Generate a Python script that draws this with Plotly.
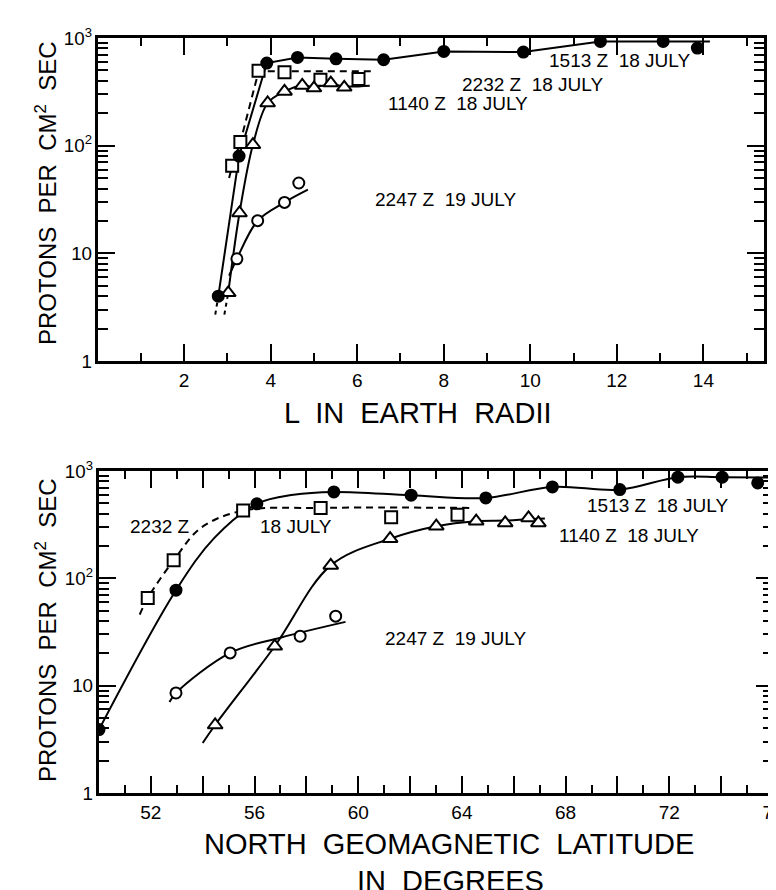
import plotly.graph_objects as go

# ---------------- data: top panel (L in Earth radii) ----------------
top_1513_L = [2.79, 3.27, 3.91, 4.62, 5.51, 6.61, 8.0, 9.84, 11.62, 13.07, 13.86]
top_1513_v = [4.0, 80, 585, 660, 641, 628, 751, 740, 930, 930, 806]
top_2232_L = [3.11, 3.30, 3.72, 4.32, 5.15, 6.03]
top_2232_v = [65, 108, 496, 480, 409, 415]
top_1140_L = [3.02, 3.28, 3.59, 3.93, 4.32, 4.73, 5.0, 5.39, 5.70]
top_1140_v = [4.3, 23.7, 102, 249, 319, 363, 343, 381, 348]
top_2247_L = [3.22, 3.70, 4.32, 4.65]
top_2247_v = [8.9, 20.1, 29.7, 45]

# hand-drawn curves (top)
top_1513_curve_L = [2.79, 3.27, 3.91, 4.62, 5.51, 6.61, 8.0, 9.84, 11.62, 13.07, 14.15]
top_1513_curve_v = [4.0, 80, 585, 660, 641, 628, 751, 740, 930, 930, 930]
top_1513_ext_L = [2.72, 2.79]
top_1513_ext_v = [2.7, 4.0]
top_2232_curve_L = [3.04, 3.11, 3.30, 3.72, 4.3, 6.36]
top_2232_curve_v = [50, 65, 108, 490, 490, 490]
top_1140_curve_L = [3.02, 3.28, 3.59, 3.93, 4.32, 4.73, 5.0, 5.39, 5.70, 6.29]
top_1140_curve_v = [4.3, 23.7, 102, 249, 319, 363, 350, 375, 355, 360]
top_1140_ext_L = [2.93, 3.02]
top_1140_ext_v = [2.7, 4.3]
top_2247_curve_L = [3.04, 3.22, 3.70, 4.32, 4.86]
top_2247_curve_v = [6.2, 8.9, 20.1, 29.7, 39]

# ---------------- data: bottom panel (geomagnetic latitude) ----------------
bot_1513_lat = [50.0, 52.97, 56.09, 59.06, 62.04, 64.92, 67.49, 70.09, 72.33, 74.04, 75.41]
bot_1513_v = [3.9, 77.5, 494, 638, 595, 561, 711, 671, 875, 875, 775]
bot_2232_lat = [51.88, 52.88, 55.56, 58.55, 61.27, 63.83]
bot_2232_v = [65.6, 147, 428, 453, 371, 392]
bot_1140_lat = [54.48, 56.78, 58.94, 61.23, 63.01, 64.55, 65.67, 66.57, 66.95]
bot_1140_v = [4.3, 23.3, 132, 234, 306, 341, 328, 365, 328]
bot_2247_lat = [52.97, 55.06, 57.76, 59.13]
bot_2247_v = [8.55, 20.2, 28.9, 44.4]

# hand-drawn curves (bottom)
bot_1513_curve_lat = [50.0, 52.97, 54.45, 56.09, 57.5, 59.06, 62.04, 64.92, 67.49, 70.09, 72.33, 74.04, 76.0]
bot_1513_curve_v = [3.9, 77.5, 238, 494, 600, 638, 595, 561, 711, 671, 875, 875, 870]
bot_2232_curve_lat = [51.57, 51.88, 52.88, 53.93, 55.56, 58.55, 64.3]
bot_2232_curve_v = [45.9, 65.6, 147, 295, 428, 453, 453]
bot_1140_curve_lat = [54.0, 54.48, 56.78, 58.94, 61.23, 63.01, 64.55, 65.67, 66.57, 67.2]
bot_1140_curve_v = [2.92, 4.3, 23.3, 132, 234, 306, 341, 345, 355, 360]
bot_2247_curve_lat = [52.72, 52.97, 55.06, 57.0, 59.51]
bot_2247_curve_v = [7.05, 8.55, 20.2, 28.0, 39.3]

# axis ranges / tick spacing
top_x_range = [0.01, 15.4]       # L in Earth radii
bot_x_range = [50, 76]           # degrees
y_range_log = [0, 3]             # 1 .. 10^3
x_major_step = 2
x_minor_step = 1

W, H = 776, 890
BLACK = "black"
FONT = "Liberation Sans"

fig = go.Figure()


def curve(x, y, xa, ya, dash="solid", shape="spline", width=2):
    fig.add_trace(go.Scatter(x=x, y=y, xaxis=xa, yaxis=ya, mode="lines",
                             line=dict(color=BLACK, width=width, dash=dash, shape=shape),
                             showlegend=False))


def marks(x, y, xa, ya, symbol, size, filled):
    fig.add_trace(go.Scatter(x=x, y=y, xaxis=xa, yaxis=ya, mode="markers",
                             marker=dict(symbol=symbol, size=size,
                                         color=BLACK if filled else "white",
                                         line=dict(color=BLACK, width=2)),
                             showlegend=False))


# top curves
curve(top_1513_curve_L, top_1513_curve_v, "x", "y", shape="linear")
curve(top_1513_ext_L, top_1513_ext_v, "x", "y", dash="4px,4px", shape="linear")
curve(top_2232_curve_L, top_2232_curve_v, "x", "y", dash="7px,5px", shape="linear")
curve(top_1140_curve_L, top_1140_curve_v, "x", "y")
curve(top_1140_ext_L, top_1140_ext_v, "x", "y", dash="4px,4px", shape="linear")
curve(top_2247_curve_L, top_2247_curve_v, "x", "y")

# top markers
marks(top_2232_L, top_2232_v, "x", "y", "square", 12, False)
marks(top_1140_L, top_1140_v, "x", "y", "triangle-up", 13, False)
marks(top_2247_L, top_2247_v, "x", "y", "circle", 11, False)
marks(top_1513_L, top_1513_v, "x", "y", "circle", 11, True)

# bottom curves
curve(bot_1513_curve_lat, bot_1513_curve_v, "x2", "y2")
curve(bot_2232_curve_lat, bot_2232_curve_v, "x2", "y2", dash="7px,5px")
curve(bot_1140_curve_lat, bot_1140_curve_v, "x2", "y2")
curve(bot_2247_curve_lat, bot_2247_curve_v, "x2", "y2")

# bottom markers
marks(bot_2232_lat, bot_2232_v, "x2", "y2", "square", 12, False)
marks(bot_1140_lat, bot_1140_v, "x2", "y2", "triangle-up", 13, False)
marks(bot_2247_lat, bot_2247_v, "x2", "y2", "circle", 11, False)
marks(bot_1513_lat, bot_1513_v, "x2", "y2", "circle", 11, True)


def xaxis_cfg(dom, rng, anchor, labelstep):
    return dict(domain=dom, range=rng, anchor=anchor, automargin=False,
                tick0=0, dtick=x_major_step, ticklabelstep=labelstep,
                ticks="inside", ticklen=17, tickwidth=2, tickcolor=BLACK,
                minor=dict(dtick=x_minor_step, tick0=0, ticks="inside", ticklen=8,
                           tickwidth=2, tickcolor=BLACK),
                showline=True, linewidth=3, linecolor=BLACK, mirror="ticks",
                showgrid=False, zeroline=False,
                tickfont=dict(family=FONT, size=19, color=BLACK))


def yaxis_cfg(dom, anchor):
    # exponentformat "power" on a log axis gives 1, 10, 10², 10³ (font enlarged x1.25)
    return dict(domain=dom, type="log", range=y_range_log, anchor=anchor, automargin=False,
                dtick=1, exponentformat="power",
                ticks="inside", ticklen=17, tickwidth=2, tickcolor=BLACK,
                minor=dict(dtick="D1", ticks="inside", ticklen=10,
                           tickwidth=2, tickcolor=BLACK),
                showline=True, linewidth=3, linecolor=BLACK, mirror="ticks",
                showgrid=False, zeroline=False,
                tickfont=dict(family=FONT, size=15, color=BLACK))


def px(x):
    return x / W


def py(y):
    return 1 - y / H


fig.update_layout(
    width=W, height=H,
    margin=dict(l=0, r=0, t=0, b=0, autoexpand=False),
    paper_bgcolor="white", plot_bgcolor="white",
    showlegend=False,
    xaxis=xaxis_cfg([px(90), px(756)], top_x_range, "y", 1),
    yaxis=yaxis_cfg([py(353), py(30)], "x"),
    xaxis2=xaxis_cfg([px(91), px(765)], bot_x_range, "y2", 2),
    yaxis2=yaxis_cfg([py(785), py(463)], "x2"),
)

labels = [
    # top panel
    ("1513 Z  18 JULY", 612, 53, 19),
    ("2232 Z  18 JULY", 525, 77, 19),
    ("1140 Z  18 JULY", 450, 96, 19),
    ("2247 Z  19 JULY", 438, 192, 19),
    # bottom panel
    ("2232 Z", 152, 518, 19),
    ("18 JULY", 288, 518, 19),
    ("1513 Z  18 JULY", 650, 497, 19),
    ("1140 Z  18 JULY", 621, 527, 19),
    ("2247 Z  19 JULY", 448, 630, 19),
    # axis titles
    ("L  IN  EARTH  RADII", 410, 405, 29),
    ("NORTH  GEOMAGNETIC  LATITUDE", 441, 836, 29),
    ("IN  DEGREES", 442, 873, 29),
]
for text, x, y, size in labels:
    fig.add_annotation(text=text, x=px(x), y=py(y), xref="paper", yref="paper",
                       xanchor="center", yanchor="middle", showarrow=False,
                       font=dict(family=FONT, size=size, color=BLACK))

for yc in (185, 622):
    fig.add_annotation(text="PROTONS  PER  CM<sup>2</sup>  SEC", x=px(38), y=py(yc),
                       xref="paper", yref="paper", xanchor="center", yanchor="middle",
                       textangle=-90, showarrow=False,
                       font=dict(family=FONT, size=24, color=BLACK))

fig.write_html("out.html")
